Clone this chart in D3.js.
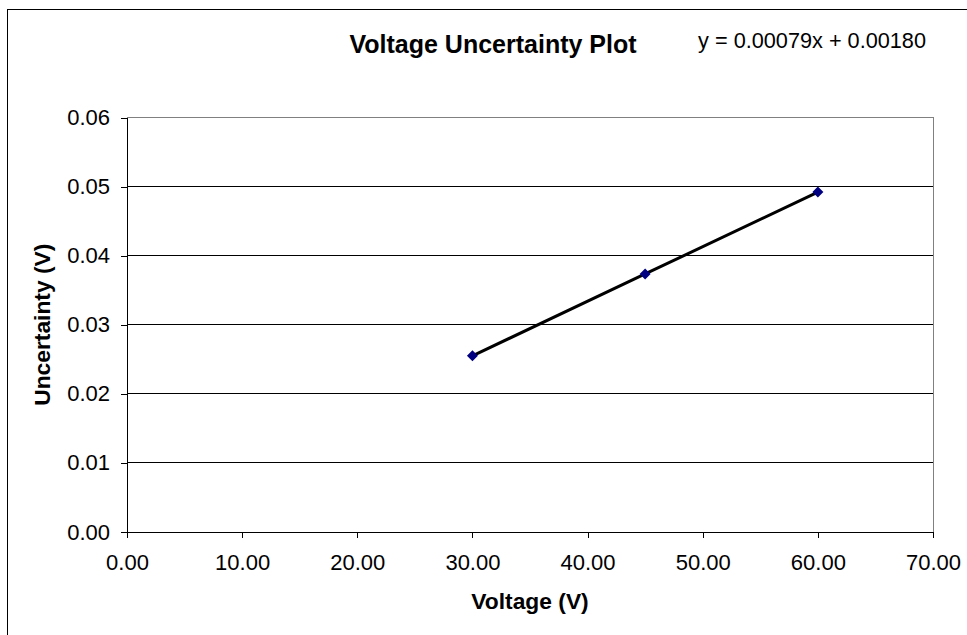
<!DOCTYPE html>
<html>
<head>
<meta charset="utf-8">
<script src="https://cdn.jsdelivr.net/npm/d3@7"></script>
<style>
  body { margin: 0; background: #fff; }
  text { font-family: "Liberation Sans", Arial, sans-serif; fill: #000; }
</style>
</head>
<body>
<svg width="967" height="635"></svg>
<script>
// data
let voltage = [30, 45, 60];
let uncertainty = [0.0255, 0.03735, 0.0492];
let xTicks = [0, 10, 20, 30, 40, 50, 60, 70];
let yTicks = [0, 0.01, 0.02, 0.03, 0.04, 0.05, 0.06];
let titleText = "Voltage Uncertainty Plot";
let equationText = "y = 0.00079x + 0.00180";

let svg = d3.select("svg");

// outer chart border (only left and top visible)
svg.append("rect")
    .attr("x", 7.5).attr("y", 9.5)
    .attr("width", 1200).attr("height", 1200)
    .attr("fill", "none").attr("stroke", "#000");

let plotLeft = 127, plotRight = 933, plotTop = 117.5, plotBottom = 532;

let x = d3.scaleLinear().domain([0, 70]).range([plotLeft, plotRight]);
let y = d3.scaleLinear().domain([0, 0.06]).range([plotBottom, plotTop]);

// gridlines
svg.append("g")
    .selectAll("line")
    .data(yTicks.slice(1, -1))
    .enter().append("line")
    .attr("x1", plotLeft).attr("x2", plotRight)
    .attr("y1", d => y(d)).attr("y2", d => y(d))
    .attr("stroke", "#000")
    .attr("shape-rendering", "crispEdges");

// plot frame top and right in grey
svg.append("path")
    .attr("d", "M" + plotLeft + "," + plotTop + "H" + plotRight + "V" + plotBottom)
    .attr("fill", "none").attr("stroke", "#808080")
    .attr("shape-rendering", "crispEdges");

// axes
let yAxis = svg.append("g")
    .attr("transform", "translate(" + plotLeft + ",0)")
    .call(d3.axisLeft(y).tickValues(yTicks).tickFormat(d3.format(".2f"))
        .tickSizeInner(6).tickSizeOuter(0).tickPadding(11));

let xAxis = svg.append("g")
    .attr("transform", "translate(0," + plotBottom + ")")
    .call(d3.axisBottom(x).tickValues(xTicks).tickFormat(d3.format(".2f"))
        .tickSizeInner(6).tickSizeOuter(0).tickPadding(16));

[xAxis, yAxis].forEach(function (g) {
  g.selectAll("path, line").attr("stroke", "#000").attr("shape-rendering", "crispEdges");
  g.selectAll("text").attr("font-size", 22).attr("fill", "#000")
      .style("font-family", "'Liberation Sans', Arial, sans-serif");
});

// series line
let points = voltage.map((v, i) => [v, uncertainty[i]]);
svg.append("path")
    .datum(points)
    .attr("d", d3.line().x(d => x(d[0])).y(d => y(d[1])))
    .attr("fill", "none")
    .attr("stroke", "#000")
    .attr("stroke-width", 3);

// diamond markers
svg.append("g")
    .selectAll("path")
    .data(points)
    .enter().append("path")
    .attr("transform", d => "translate(" + x(d[0]) + "," + y(d[1]) + ")")
    .attr("d", "M0,-5.5L5.5,0L0,5.5L-5.5,0Z")
    .attr("fill", "#000080");

// titles
svg.append("text")
    .attr("x", 493).attr("y", 53)
    .attr("text-anchor", "middle")
    .attr("font-size", 25).attr("font-weight", "bold")
    .text(titleText);

svg.append("text")
    .attr("x", 926).attr("y", 48)
    .attr("text-anchor", "end")
    .attr("font-size", 21.7)
    .text(equationText);

svg.append("text")
    .attr("x", (plotLeft + plotRight) / 2).attr("y", 609)
    .attr("text-anchor", "middle")
    .attr("font-size", 22.8).attr("font-weight", "bold")
    .text("Voltage (V)");

svg.append("text")
    .attr("transform", "translate(50," + (plotTop + plotBottom) / 2 + ") rotate(-90)")
    .attr("text-anchor", "middle")
    .attr("font-size", 22.8).attr("font-weight", "bold")
    .text("Uncertainty (V)");
</script>
</body>
</html>
